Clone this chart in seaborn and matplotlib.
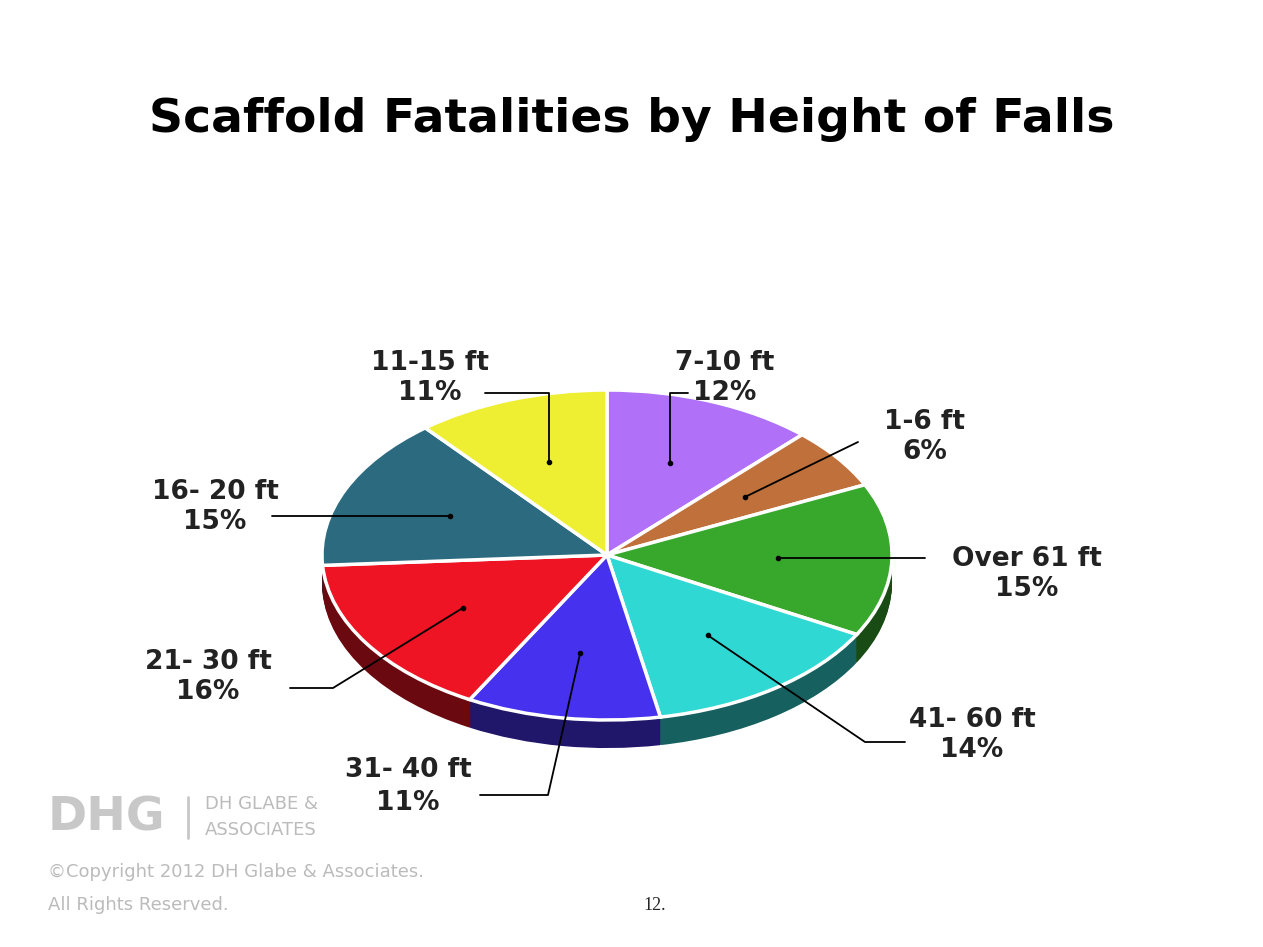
import numpy as np
import matplotlib
matplotlib.use("Agg")
import matplotlib.pyplot as plt
import seaborn as sns
from matplotlib.colors import to_rgb

categories = ["7-10 ft", "1-6 ft", "Over 61 ft", "41- 60 ft", "31- 40 ft", "21- 30 ft", "16- 20 ft", "11-15 ft"]
values = [12, 6, 15, 14, 11, 16, 15, 11]
colors = ["#b070f8", "#c0703a", "#38a82c", "#30d8d4", "#4632ee", "#ee1424", "#2c6a80", "#eeee32"]

sns.set_theme(style="white")
W, H = 1263, 947
fig = plt.figure(figsize=(W / 100, H / 100), dpi=100)
fig.patch.set_facecolor("white")

cx, cy, rx, ry, depth = 607, 555, 285, 165, 0.17
ax = fig.add_axes([(cx - rx) / W, 1 - (cy + ry * (1 + depth + 0.05)) / H, 2 * rx / W, ry * (2 + depth + 0.05) / H])
dark = [tuple(np.array(to_rgb(c)) * 0.45) for c in colors]
for off in np.linspace(-depth, -0.005, 25):
    ax.pie(values, colors=dark, startangle=90, counterclock=False, center=(0, off),
           wedgeprops=dict(linewidth=0))
ax.pie(values, colors=colors, startangle=90, counterclock=False, center=(0, 0),
       wedgeprops=dict(edgecolor="white", linewidth=2.5))
ax.set_aspect("auto")
ax.set_xlim(-1.0, 1.0)
ax.set_ylim(-1 - depth - 0.05, 1.0)
ax.axis("off")

ov = fig.add_axes([0, 0, 1, 1])
ov.set_xlim(0, W); ov.set_ylim(H, 0); ov.axis("off")

fig.text(0.5, 1 - 120 / H, "Scaffold Fatalities by Height of Falls", ha="center", va="center",
         fontsize=34, fontweight="bold", family="DejaVu Sans", color="black")

cum = np.cumsum([0] + values[:-1])
angles = np.deg2rad(90 - 3.6 * (cum + np.array(values) / 2))
dots = {c: (cx + 0.6 * rx * np.cos(a), cy - 0.6 * ry * np.sin(a)) for c, a in zip(categories, angles)}

def leader(c):
    dx, dy = dots[c]
    if c == "11-15 ft":
        return [(485, 393), (dx, 393)]
    if c == "7-10 ft":
        return [(688, 393), (dx, 393)]
    if c == "1-6 ft":
        return [(858, 442)]
    if c == "Over 61 ft":
        return [(925, dy)]
    if c == "41- 60 ft":
        return [(905, 742), (865, 742)]
    if c == "31- 40 ft":
        return [(480, 795), (548, 795)]
    if c == "21- 30 ft":
        return [(290, 688), (333, 688)]
    if c == "16- 20 ft":
        return [(272, dy)]

text_pos = {"11-15 ft": (430, 378), "7-10 ft": (725, 378), "1-6 ft": (925, 437),
            "Over 61 ft": (1027, 574), "41- 60 ft": (972, 735), "21- 30 ft": (208, 677),
            "16- 20 ft": (215, 507)}

for c, v in zip(categories, values):
    if c == "31- 40 ft":
        ov.text(408, 770, c, ha="center", va="center", fontsize=19, fontweight="bold", color="#222")
        ov.text(408, 803, f"{v}%", ha="center", va="center", fontsize=19, fontweight="bold", color="#222")
    else:
        tx, ty = text_pos[c]
        ov.text(tx, ty, f"{c}\n{v}%", ha="center", va="center", fontsize=19, fontweight="bold",
                color="#222", linespacing=1.2)
    pts = leader(c)
    d = dots[c]
    ov.plot([p[0] for p in pts] + [d[0]], [p[1] for p in pts] + [d[1]], color="black", lw=1.3)
    ov.plot(d[0], d[1], "o", color="black", ms=3)

ov.text(48, 818, "DHG", fontsize=34, fontweight="bold", color="#c8c8c8", va="center")
ov.plot([188, 188], [797, 838], color="#c8c8c8", lw=2)
ov.text(205, 804, "DH GLABE &", fontsize=13, color="#bbbbbb", va="center")
ov.text(205, 830, "ASSOCIATES", fontsize=13, color="#bbbbbb", va="center")
ov.text(48, 872, "©Copyright 2012 DH Glabe & Associates.", fontsize=13, color="#bbbbbb", va="center")
ov.text(48, 905, "All Rights Reserved.", fontsize=13, color="#bbbbbb", va="center")
ov.text(655, 905, "12.", fontsize=13, family="Liberation Serif", ha="center", va="center")

fig.savefig("out.png", dpi=100)
